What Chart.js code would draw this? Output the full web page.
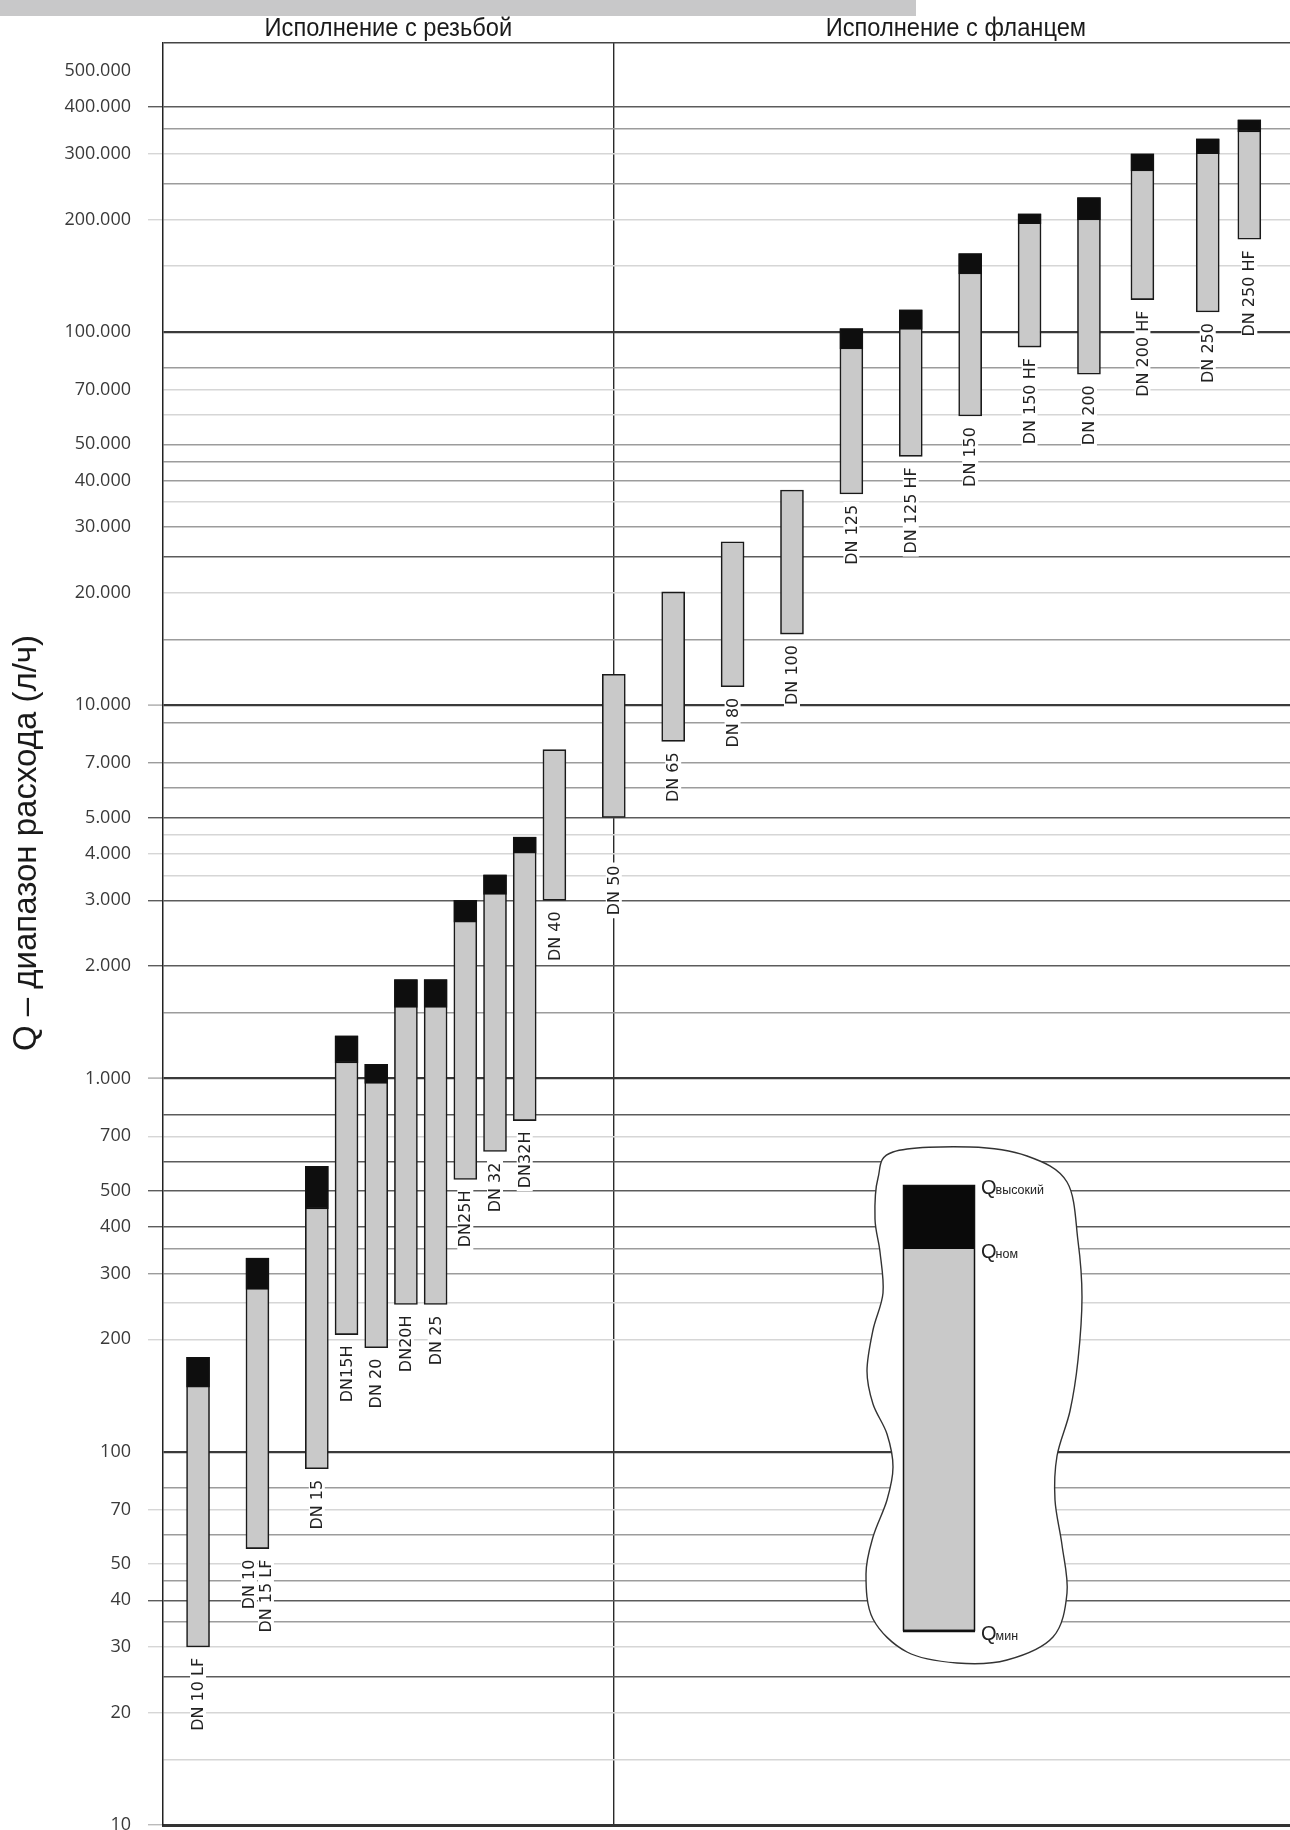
<!DOCTYPE html>
<html>
<head>
<meta charset="utf-8">
<script src="https://cdn.jsdelivr.net/npm/chart.js@4/dist/chart.umd.min.js"></script>
<style>
  body { margin: 0; background: #fff; }
  canvas { display: block; }
</style>
</head>
<body>
<canvas id="flowChart" width="1290" height="1830"></canvas>
<script>
  // valve sizes and their flow ranges, l/h
  const valveLabels = ['DN 10 LF', 'DN 10\nDN 15 LF', 'DN 15', 'DN15H', 'DN 20', 'DN20H', 'DN 25', 'DN25H', 'DN 32', 'DN32H',
    'DN 40', 'DN 50', 'DN 65', 'DN 80', 'DN 100', 'DN 125', 'DN 125 HF', 'DN 150', 'DN 150 HF', 'DN 200', 'DN 200 HF', 'DN 250', 'DN 250 HF'];
  const slotPos = [0, 2, 4, 5, 6, 7, 8, 9, 10, 11, 12, 14, 16, 18, 20, 22, 24, 26, 28, 30, 31.8, 34, 35.4];
  const qMin = [30, 55, 90, 206, 190, 248, 248, 536, 637, 771, 3000, 5000, 8000, 11200, 15500, 36800, 46400, 59500, 91000, 77000, 122000, 113000, 177000];
  const qNom = [149, 272, 447, 1100, 970, 1550, 1550, 2620, 3110, 4010, null, null, null, null, null, 90000, 101500, 143000, 195000, 199500, 270000, 300000, 343000];
  const qMax = [179, 330, 581, 1300, 1090, 1840, 1840, 3000, 3510, 4430, 7600, 12100, 20100, 27400, 37700, 102000, 114500, 162000, 207000, 229000, 300000, 329000, 370000];

  const dividerSlot = 14;
  const sectionTitles = ['Исполнение с резьбой', 'Исполнение с фланцем'];
  const yTitle = 'Q – диапазон расхода (л/ч)';

  const gridValues = [10, 15, 20, 25, 30, 35, 40, 45, 50, 60, 70, 80, 100, 200, 250, 300, 350, 400, 500, 600, 700, 800,
    1000, 1500, 2000, 3000, 3500, 4000, 4500, 5000, 6000, 7000, 9000, 10000, 15000, 20000, 25000, 30000, 35000, 40000, 45000,
    50000, 60000, 70000, 80000, 100000, 150000, 200000, 250000, 300000, 350000, 400000, 500000];
  const tickLabels = [10, 20, 30, 40, 50, 70, 100, 200, 300, 400, 500, 700, 1000, 2000, 3000, 4000, 5000, 7000,
    10000, 20000, 30000, 40000, 50000, 70000, 100000, 200000, 300000, 400000, 500000];
  const yMin = 10, yMax = 594000;
  const xMin = -1.18, xMax = 36.77;

  // line weights of the printed grid
  const majorLines = [100, 1000, 10000, 100000];
  const darkLines = [25, 40, 400, 500, 600, 800, 2000, 3000, 5000, 25000, 400000];
  const midLines = [35, 45, 60, 80, 300, 350, 1500, 6000, 7000, 9000, 15000, 30000, 40000, 45000, 50000, 80000, 250000, 350000];
  const noStub = [100, 20000, 30000, 40000, 50000, 70000, 100000, 500000];

  function lineColor(v) {
    if (v === yMax) return '#444';
    if (v === 10 || v === 500000) return 'rgba(0,0,0,0)';
    if (majorLines.includes(v)) return '#3a3a3a';
    if (darkLines.includes(v)) return '#5c5c5c';
    if (midLines.includes(v)) return '#9c9c9c';
    return '#d6d6d6';
  }
  function lineWidth(v) {
    if (majorLines.includes(v)) return 2.2;
    return 1.4;
  }
  function fmt(v) {
    return String(v).replace(/\B(?=(\d{3})+(?!\d))/g, '.');
  }

  const overlay = {
    id: 'overlay',
    beforeDraw(chart) {
      const c = chart.ctx;
      c.save();
      c.fillStyle = '#c8c8c9';
      c.fillRect(0, 0, 916, 16);
      c.restore();
    },
    afterDatasetsDraw(chart) {
      const c = chart.ctx;
      const xs = chart.scales.x, ys = chart.scales.y;

      // rotated size labels under each bar (DN 50 sits lower, off the divider)
      c.save();
      c.font = '16px "DejaVu Sans"';
      c.fillStyle = '#222';
      c.textBaseline = 'middle';
      c.textAlign = 'right';
      valveLabels.forEach((lab, i) => {
        const x = xs.getPixelForValue(slotPos[i]);
        const gap = slotPos[i] === dividerSlot ? 48 : 11;
        const y = ys.getPixelForValue(qMin[i]) + gap;
        const lines = lab.split('\n');
        c.save();
        c.translate(x, y);
        c.rotate(-Math.PI / 2);
        lines.forEach((t, k) => {
          const off = (k - (lines.length - 1) / 2) * 17;
          const w = c.measureText(t).width;
          c.fillStyle = '#fff';
          c.fillRect(-w - 3, off - 8, w + 6, 16);
          c.fillStyle = '#222';
          c.fillText(t, 0, off + 1);
        });
        c.restore();
      });
      c.restore();

      // legend sketch
      const blob = [[893, 1152], [970, 1147], [1027, 1156], [1067, 1182], [1078, 1241], [1082, 1297], [1078, 1360],
        [1070, 1411], [1057, 1456], [1055, 1500], [1062, 1545], [1067, 1593], [1053, 1637], [1007, 1660], [957, 1663],
        [907, 1652], [873, 1619], [866, 1574], [873, 1537], [887, 1500], [893, 1467], [887, 1434], [873, 1404],
        [867, 1371], [873, 1330], [883, 1293], [880, 1252], [875, 1219], [878, 1178]];
      c.save();
      c.beginPath();
      const n = blob.length;
      c.moveTo(blob[0][0], blob[0][1]);
      for (let i = 0; i < n; i++) {
        const p0 = blob[(i - 1 + n) % n], p1 = blob[i], p2 = blob[(i + 1) % n], p3 = blob[(i + 2) % n];
        c.bezierCurveTo(p1[0] + (p2[0] - p0[0]) / 6, p1[1] + (p2[1] - p0[1]) / 6,
          p2[0] - (p3[0] - p1[0]) / 6, p2[1] - (p3[1] - p1[1]) / 6, p2[0], p2[1]);
      }
      c.closePath();
      c.fillStyle = '#fff';
      c.fill();
      c.strokeStyle = '#333';
      c.lineWidth = 1.4;
      c.stroke();

      c.fillStyle = '#c9c9c9';
      c.fillRect(903, 1185, 72, 446);
      c.fillStyle = '#0a0a0a';
      c.fillRect(903, 1185, 72, 64);
      c.strokeStyle = '#111';
      c.lineWidth = 1.5;
      c.strokeRect(903.5, 1185.5, 71, 445);
      c.lineWidth = 2.5;
      c.beginPath(); c.moveTo(903, 1631); c.lineTo(975, 1631); c.stroke();

      const qs = [['высокий', 1194], ['ном', 1258], ['мин', 1640]];
      qs.forEach(([sub, base]) => {
        c.fillStyle = '#222';
        c.textAlign = 'left';
        c.textBaseline = 'alphabetic';
        c.font = '20px "Liberation Sans"';
        c.fillText('Q', 981, base);
        const w = c.measureText('Q').width;
        c.font = '12.5px "Liberation Sans"';
        c.fillText(sub, 981 + w - 1, base);
      });
      c.restore();
    },
    afterDraw(chart) {
      const c = chart.ctx;
      const xs = chart.scales.x, area = chart.chartArea;
      const mid = xs.getPixelForValue(dividerSlot);
      const centers = [(area.left + mid) / 2, (mid + area.right) / 2 + 4];
      c.save();
      c.fillStyle = '#1a1a1a';
      c.font = '26px "Liberation Sans"';
      c.textAlign = 'center';
      c.textBaseline = 'alphabetic';
      sectionTitles.forEach((t, i) => {
        c.save();
        c.translate(centers[i], 36);
        c.scale(0.91, 1);
        c.fillText(t, 0, 0);
        c.restore();
      });
      c.translate(27, 843);
      c.rotate(-Math.PI / 2);
      c.font = '33px "Liberation Sans"';
      c.textBaseline = 'middle';
      c.fillText(yTitle, 0, 0);
      c.restore();
    }
  };

  new Chart(document.getElementById('flowChart'), {
    type: 'bar',
    data: {
      datasets: [{
        label: 'Qном–Qвысокий',
        data: slotPos.map((x, i) => qNom[i] == null ? null : { x: x, y: [qNom[i], qMax[i]] }).filter(d => d),
        backgroundColor: '#0e0e0e',
        borderColor: '#111',
        borderWidth: 1.5,
        borderSkipped: false,
        barThickness: 23,
        grouped: false,
        order: 0
      }, {
        label: 'Qмин–Qном',
        data: slotPos.map((x, i) => ({ x: x, y: [qMin[i], qMax[i]] })),
        backgroundColor: '#c9c9c9',
        borderColor: '#1a1a1a',
        borderWidth: 1.6,
        borderSkipped: false,
        barThickness: 23,
        grouped: false,
        order: 1
      }]
    },
    options: {
      responsive: false,
      animation: false,
      devicePixelRatio: 1,
      layout: { padding: { top: 43, bottom: 5, left: 0, right: 0 } },
      plugins: { legend: { display: false }, tooltip: { enabled: false } },
      scales: {
        x: {
          type: 'linear',
          offset: false,
          min: xMin,
          max: xMax,
          afterFit: s => { s.height = 0; s.paddingLeft = 0; s.paddingRight = 0; },
          afterBuildTicks: s => { s.ticks = [{ value: dividerSlot }]; },
          ticks: { display: false, padding: 0 },
          grid: { offset: false, color: '#2a2a2a', lineWidth: 1.4, drawTicks: false },
          border: { display: true, color: '#333', width: 3 }
        },
        y: {
          type: 'logarithmic',
          min: yMin,
          max: yMax,
          afterFit: s => { s.width = 163; s.paddingTop = 0; s.paddingBottom = 0; },
          afterBuildTicks: s => { s.ticks = gridValues.concat([yMax]).map(v => ({ value: v })); },
          ticks: {
            autoSkip: false,
            padding: 17,
            color: '#3a3a3a',
            font: { family: 'Open Sans', size: 18 },
            callback: v => tickLabels.includes(v) ? fmt(v) : ''
          },
          grid: {
            color: ctx => lineColor(ctx.tick.value),
            lineWidth: ctx => lineWidth(ctx.tick.value),
            tickLength: 15,
            tickWidth: 1.4,
            tickColor: ctx => {
              const v = ctx.tick.value;
              if (!tickLabels.includes(v) || noStub.includes(v)) return 'rgba(0,0,0,0)';
              return v === 10 ? '#bbb' : lineColor(v) === '#3a3a3a' ? '#aaa' : lineColor(v);
            }
          },
          border: { display: true, color: '#222', width: 1.5 }
        }
      }
    },
    plugins: [overlay]
  });
</script>
</body>
</html>
